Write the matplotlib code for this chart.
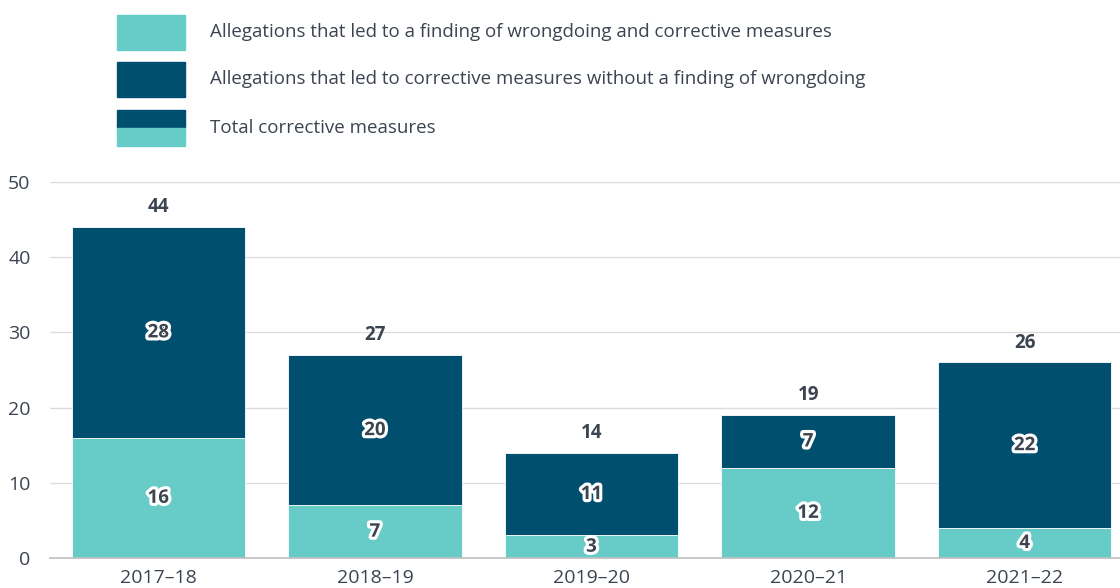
import matplotlib
matplotlib.use("Agg")
import matplotlib.pyplot as plt
import matplotlib.patheffects as pe
from matplotlib.patches import Rectangle

years = ["2017–18", "2018–19", "2019–20", "2020–21", "2021–22"]
finding = [16, 7, 3, 12, 4]
without_finding = [28, 20, 11, 7, 22]
totals = [44, 27, 14, 19, 26]
legend_labels = [
    "Allegations that led to a finding of wrongdoing and corrective measures",
    "Allegations that led to corrective measures without a finding of wrongdoing",
    "Total corrective measures",
]

TEAL = "#67CBC8"
NAVY = "#004F6F"
TXT = "#3B4450"

plt.rcParams['font.family'] = ['Open Sans', 'DejaVu Sans']

fig = plt.figure(figsize=(11.2, 5.88), dpi=100)
ax = fig.add_axes([50/1120, 30/588, 1 - 50/1120, (558-182)/588])

x = list(range(len(years)))
ax.bar(x, finding, width=0.8, color=TEAL, edgecolor="white", linewidth=0.6, zorder=3)
ax.bar(x, without_finding, width=0.8, bottom=finding, color=NAVY, edgecolor="white", linewidth=0.6, zorder=3)

stroke = [pe.withStroke(linewidth=4.5, foreground="white")]
for i in x:
    ax.text(i, finding[i] / 2, str(finding[i]), ha="center", va="center", fontsize=13.5,
            fontweight="bold", color=TXT, path_effects=stroke, zorder=5)
    ax.text(i, finding[i] + without_finding[i] / 2, str(without_finding[i]), ha="center", va="center",
            fontsize=13.5, fontweight="bold", color=TXT, path_effects=stroke, zorder=5)
    ax.text(i, totals[i] + 1.3, str(totals[i]), ha="center", va="bottom", fontsize=13.5,
            fontweight="bold", color=TXT, zorder=5)

ax.set_xlim(-0.5, 4.44)
ax.set_ylim(0, 50)
ax.set_yticks([0, 10, 20, 30, 40, 50])
ax.set_xticks(x)
ax.set_xticklabels(years)
ax.tick_params(axis="both", length=0, labelsize=14, colors=TXT)
ax.tick_params(axis="y", pad=14)
ax.tick_params(axis="x", pad=8)
ax.grid(axis="y", color="#DCDCDC", linewidth=1, zorder=0)
for s in ["top", "right", "left"]:
    ax.spines[s].set_visible(False)
ax.spines["bottom"].set_color("#BFBFBF")
ax.spines["bottom"].set_linewidth(1.2)
ax.spines["bottom"].set_zorder(4)

# Legend (manual)
def fx(px):
    return px / 1120
def fy(py):
    return 1 - py / 588

fig.patches.append(Rectangle((fx(117), fy(50)), fx(185) - fx(117), fy(15) - fy(50),
                             transform=fig.transFigure, color=TEAL))
fig.patches.append(Rectangle((fx(117), fy(97)), fx(185) - fx(117), fy(62) - fy(97),
                             transform=fig.transFigure, color=NAVY))
fig.patches.append(Rectangle((fx(117), fy(128)), fx(185) - fx(117), fy(110) - fy(128),
                             transform=fig.transFigure, color=NAVY))
fig.patches.append(Rectangle((fx(117), fy(146)), fx(185) - fx(117), fy(128) - fy(146),
                             transform=fig.transFigure, color=TEAL))
for lab, yc in zip(legend_labels, [32, 79, 128]):
    fig.text(fx(210), fy(yc), lab, ha="left", va="center", fontsize=13.5, color=TXT)

fig.savefig("out.png", dpi=100)
